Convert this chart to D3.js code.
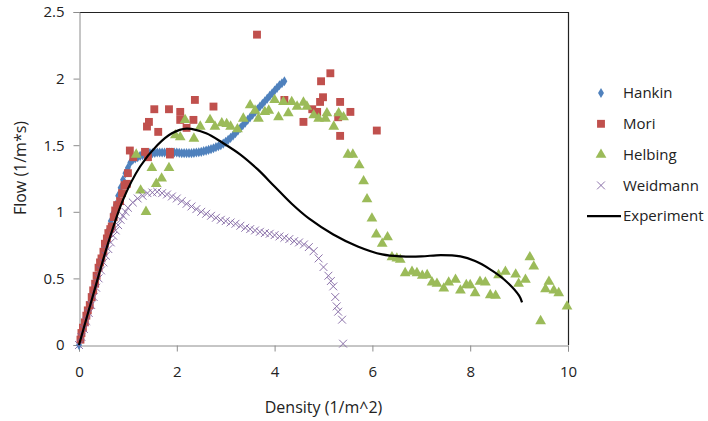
<!DOCTYPE html>
<html>
<head>
<meta charset="utf-8">
<script src="https://cdn.jsdelivr.net/npm/d3@7"></script>
<style>
  html, body { margin: 0; padding: 0; background: #fff; }
  svg { display: block; font-family: "Open Sans", "Noto Sans", sans-serif; }
</style>
</head>
<body>
<svg id="chart" width="708" height="421"></svg>
<script>
// Flow vs. density for four pedestrian models and the experimental curve

const xTicks = [0, 2, 4, 6, 8, 10];
const yTicks = [0, 0.5, 1, 1.5, 2, 2.5];
const yTickLabels = ["0", "0.5", "1", "1.5", "2", "2.5"];

const seriesNames = ["Hankin", "Mori", "Helbing", "Weidmann", "Experiment"];

// [density, flow]
const hankin = [
  [0,0.0],[0.05,0.07],[0.1,0.14],[0.15,0.21],[0.2,0.28],[0.25,0.35],[0.3,0.42],[0.35,0.49],
  [0.4,0.57],[0.45,0.64],[0.5,0.72],[0.55,0.79],[0.6,0.86],[0.65,0.93],[0.7,0.99],[0.75,1.05],
  [0.8,1.12],[0.85,1.18],[0.9,1.24],[0.95,1.29],[1.0,1.33],[1.05,1.37],[1.1,1.39],[1.15,1.4],
  [1.2,1.41],[1.25,1.42],[1.3,1.425],[1.35,1.43],[1.4,1.435],[1.45,1.44],[1.5,1.44],[1.55,1.443],
  [1.6,1.445],[1.65,1.445],[1.7,1.445],[1.75,1.445],[1.8,1.445],[1.85,1.445],[1.9,1.445],
  [1.95,1.445],[2.0,1.445],[2.05,1.443],[2.1,1.44],[2.15,1.44],[2.2,1.44],[2.25,1.44],[2.3,1.44],
  [2.35,1.442],[2.4,1.445],[2.45,1.447],[2.5,1.45],[2.55,1.455],[2.6,1.46],[2.65,1.465],[2.7,1.47],
  [2.75,1.477],[2.8,1.485],[2.85,1.492],[2.9,1.5],[2.95,1.512],[3.0,1.525],[3.05,1.54],[3.1,1.555],
  [3.15,1.572],[3.2,1.59],[3.25,1.61],[3.3,1.63],[3.35,1.65],[3.4,1.67],[3.45,1.69],[3.5,1.71],
  [3.55,1.73],[3.6,1.75],[3.65,1.77],[3.7,1.79],[3.75,1.81],[3.8,1.83],[3.85,1.85],[3.9,1.87],
  [3.95,1.89],[4.0,1.91],[4.05,1.93],[4.1,1.95],[4.15,1.965],[4.2,1.98]
];

const mori = [
  [0.03,0.04],[0.05,0.09],[0.08,0.13],[0.12,0.17],[0.15,0.22],[0.18,0.26],[0.22,0.3],[0.26,0.36],
  [0.29,0.41],[0.33,0.46],[0.36,0.52],[0.4,0.58],[0.43,0.62],[0.46,0.65],[0.5,0.7],[0.53,0.76],
  [0.57,0.8],[0.6,0.84],[0.64,0.87],[0.67,0.89],[0.71,0.96],[0.74,1.01],[0.78,1.05],[0.84,1.08],
  [0.88,1.14],[0.93,1.2],[0.98,1.21],[1.0,1.29],
  [1.04,1.46],[1.11,1.41],[1.35,1.45],[1.41,1.41],[1.39,1.64],[1.43,1.675],[1.54,1.77],[1.62,1.6],
  [1.84,1.77],[1.86,1.45],[1.86,1.43],[2.07,1.75],[2.07,1.69],[2.2,1.63],[2.34,1.69],[2.37,1.84],
  [2.75,1.79],[3.64,2.33],[4.2,1.84],[4.59,1.675],[4.77,1.77],[4.87,1.75],[4.93,1.825],[4.99,1.86],
  [4.95,1.98],[5.14,2.04],[5.3,1.71],[5.34,1.825],[5.34,1.57],[5.55,1.75],[6.09,1.61]
];

const helbing = [
  [1.17,1.43],[1.26,1.16],[1.37,1.0],[1.49,1.33],[1.58,1.21],[1.69,1.25],[1.84,1.33],[1.97,1.575],
  [2.07,1.56],[2.17,1.69],[2.35,1.55],[2.48,1.64],[2.68,1.69],[2.78,1.64],[2.92,1.665],[3.02,1.66],
  [3.1,1.64],[3.24,1.62],[3.36,1.70],[3.5,1.8],[3.6,1.76],[3.67,1.70],[3.8,1.75],[3.88,1.76],
  [4.0,1.84],[4.08,1.71],[4.18,1.825],[4.28,1.74],[4.35,1.825],[4.46,1.79],[4.59,1.82],[4.66,1.79],
  [4.8,1.725],[4.9,1.70],[5.04,1.70],[5.07,1.74],[5.21,1.64],[5.31,1.74],[5.41,1.71],[5.5,1.43],
  [5.6,1.43],[5.73,1.35],[5.82,1.23],[5.89,1.095],[5.99,0.95],[6.08,0.83],[6.2,0.76],[6.31,0.81],
  [6.4,0.66],[6.5,0.65],[6.57,0.64],[6.67,0.54],[6.81,0.55],[6.91,0.54],[7.02,0.52],[7.12,0.525],
  [7.22,0.47],[7.32,0.46],[7.46,0.425],[7.56,0.47],[7.7,0.49],[7.8,0.41],[7.92,0.45],[8.0,0.45],
  [8.1,0.39],[8.2,0.475],[8.31,0.47],[8.41,0.375],[8.52,0.37],[8.58,0.525],[8.72,0.55],[8.93,0.53],
  [8.99,0.46],[9.13,0.49],[9.22,0.66],[9.3,0.59],[9.44,0.18],[9.54,0.42],[9.61,0.475],[9.71,0.41],
  [9.81,0.39],[9.98,0.29]
];

const weidmann = [
  [0,0],[0.05,0.06],[0.1,0.12],[0.15,0.18],[0.2,0.24],[0.25,0.3],[0.3,0.36],[0.35,0.43],[0.4,0.5],
  [0.45,0.56],[0.5,0.62],[0.55,0.67],[0.6,0.72],[0.65,0.77],[0.7,0.82],[0.75,0.86],[0.8,0.9],
  [0.85,0.94],[0.9,0.97],[0.95,1.0],[1.0,1.03],[1.1,1.07],[1.2,1.1],[1.3,1.12],[1.4,1.14],
  [1.5,1.145],[1.6,1.15],[1.7,1.14],[1.8,1.13],[1.9,1.115],[2.0,1.1],[2.1,1.08],[2.2,1.06],
  [2.3,1.04],[2.4,1.02],[2.5,1.0],[2.6,0.985],[2.7,0.97],[2.8,0.955],[2.9,0.94],[3.0,0.93],
  [3.1,0.92],[3.2,0.91],[3.3,0.895],[3.4,0.88],[3.5,0.87],[3.6,0.86],[3.7,0.85],[3.8,0.84],
  [3.9,0.835],[4.0,0.825],[4.1,0.815],[4.2,0.805],[4.3,0.795],[4.4,0.78],[4.5,0.77],[4.6,0.755],
  [4.7,0.735],[4.8,0.705],[4.9,0.65],[5.0,0.585],[5.1,0.52],[5.15,0.48],[5.2,0.44],[5.24,0.36],
  [5.27,0.29],[5.3,0.25],[5.38,0.19],[5.4,0.01]
];

const experiment = [
  [0,0],[0.3,0.39],[0.6,0.77],[0.9,1.09],[1.25,1.34],[1.6,1.5],[1.9,1.59],[2.2,1.625],
  [2.6,1.59],[2.95,1.515],[3.3,1.43],[3.65,1.32],[4.0,1.19],[4.35,1.06],[4.7,0.95],[5.2,0.83],
  [5.7,0.74],[6.2,0.68],[6.6,0.665],[7.0,0.665],[7.4,0.675],[7.8,0.665],[8.1,0.63],[8.4,0.57],
  [8.7,0.49],[9.0,0.37],[9.06,0.32]
];

const colors = {
  Hankin: "#4F81BD",
  Mori: "#C0504D",
  Helbing: "#9BBB59",
  Weidmann: "#8064A2",
  Experiment: "#000000"
};

const svg = d3.select("#chart");
const plot = { left: 79, right: 568, top: 12, bottom: 345 };

const x = d3.scaleLinear().domain([0, 10]).range([plot.left, plot.right]);
const y = d3.scaleLinear().domain([0, 2.5]).range([plot.bottom, plot.top]);

// Plot frame: top/right edges dark, axes in grey
svg.append("line")
  .attr("x1", plot.left).attr("x2", plot.right + 0.5)
  .attr("y1", plot.top + 0.5).attr("y2", plot.top + 0.5)
  .attr("stroke", "#222").attr("stroke-width", 1.2);
svg.append("line")
  .attr("x1", plot.right + 0.5).attr("x2", plot.right + 0.5)
  .attr("y1", plot.top).attr("y2", plot.bottom)
  .attr("stroke", "#222").attr("stroke-width", 1.2);

const xAxis = d3.axisBottom(x).tickValues(xTicks).tickSize(6).tickPadding(15)
  .tickFormat(d3.format("d"));
const gx = svg.append("g").attr("transform", `translate(0,${plot.bottom + 0.5})`).call(xAxis);

const yAxis = d3.axisLeft(y).tickValues(yTicks).tickSize(6).tickPadding(9)
  .tickFormat((d, i) => yTickLabels[i]);
const gy = svg.append("g").attr("transform", `translate(${plot.left + 0.5},0)`).call(yAxis);

[gx, gy].forEach(g => {
  g.select(".domain").attr("stroke", "#8c8c8c");
  g.selectAll(".tick line").attr("stroke", "#8c8c8c");
  g.selectAll(".tick text")
    .attr("fill", "#222")
    .style("font-size", "15px")
    .style("font-family", "'Open Sans', 'Noto Sans', sans-serif");
});

// Axis titles
svg.append("text")
  .attr("x", (plot.left + plot.right) / 2).attr("y", 413)
  .attr("text-anchor", "middle").attr("fill", "#222")
  .style("font-size", "16px")
  .text("Density (1/m^2)");

svg.append("text")
  .attr("transform", "translate(26,168) rotate(-90)")
  .attr("text-anchor", "middle").attr("fill", "#222")
  .style("font-size", "16px")
  .text("Flow (1/m*s)");

// Marker shapes
const diamond = d3.symbol().type(d3.symbolDiamond).size(30);
const square = d3.symbol().type(d3.symbolSquare).size(62);
const triangle = d3.symbol().type(d3.symbolTriangle).size(50);
const cross = d3.symbol().type(d3.symbolX).size(42);

const layer = svg.append("g");

layer.append("g").selectAll("path").data(hankin).join("path")
  .attr("d", diamond)
  .attr("transform", d => `translate(${x(d[0])},${y(d[1])})`)
  .attr("fill", colors.Hankin);

layer.append("g").selectAll("path").data(mori).join("path")
  .attr("d", square)
  .attr("transform", d => `translate(${x(d[0])},${y(d[1])})`)
  .attr("fill", colors.Mori);

layer.append("g").selectAll("path").data(helbing).join("path")
  .attr("d", triangle)
  .attr("transform", d => `translate(${x(d[0])},${y(d[1])})`)
  .attr("fill", colors.Helbing);

layer.append("g").selectAll("path").data(weidmann).join("path")
  .attr("d", cross)
  .attr("transform", d => `translate(${x(d[0])},${y(d[1])})`)
  .attr("fill", "none")
  .attr("stroke", colors.Weidmann)
  .attr("stroke-width", 0.9);

const line = d3.line().x(d => x(d[0])).y(d => y(d[1])).curve(d3.curveCatmullRom.alpha(0.5));
layer.append("path")
  .datum(experiment)
  .attr("d", line)
  .attr("fill", "none")
  .attr("stroke", colors.Experiment)
  .attr("stroke-width", 2.2);

// Legend
const legendTop = 93, legendStep = 30.8, legendMarkX = 601, legendTextX = 623;
const legend = svg.append("g");
seriesNames.forEach((name, i) => {
  const cy = legendTop + i * legendStep;
  const g = legend.append("g");
  if (name === "Hankin") {
    g.append("path").attr("d", diamond).attr("transform", `translate(${legendMarkX},${cy})`).attr("fill", colors.Hankin);
  } else if (name === "Mori") {
    g.append("path").attr("d", square).attr("transform", `translate(${legendMarkX},${cy})`).attr("fill", colors.Mori);
  } else if (name === "Helbing") {
    g.append("path").attr("d", triangle).attr("transform", `translate(${legendMarkX},${cy})`).attr("fill", colors.Helbing);
  } else if (name === "Weidmann") {
    g.append("path").attr("d", cross).attr("transform", `translate(${legendMarkX},${cy})`)
      .attr("fill", "none").attr("stroke", colors.Weidmann).attr("stroke-width", 0.9);
  } else {
    g.append("line").attr("x1", 587).attr("x2", 621).attr("y1", cy).attr("y2", cy)
      .attr("stroke", colors.Experiment).attr("stroke-width", 2.2);
  }
  g.append("text")
    .attr("x", legendTextX).attr("y", cy).attr("dy", "0.35em")
    .attr("fill", "#222").style("font-size", "15px")
    .text(name);
});
</script>
</body>
</html>
